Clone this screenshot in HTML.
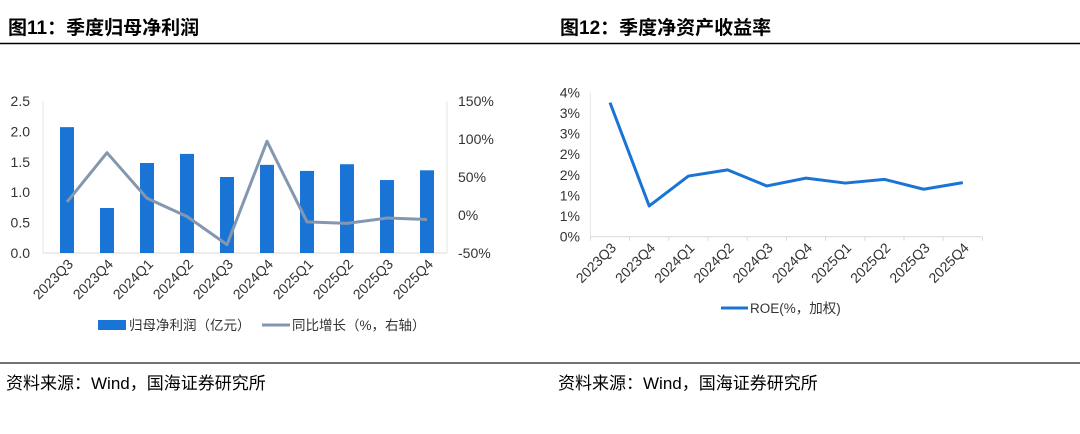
<!DOCTYPE html>
<html><head><meta charset="utf-8"><style>
body{margin:0;background:#fff;width:1080px;height:429px;overflow:hidden}
svg text{font-family:"Liberation Sans","Noto Sans CJK SC",sans-serif}
</style></head><body>
<svg id="s" width="1080" height="429" xmlns="http://www.w3.org/2000/svg">
<text x="8" y="34" font-size="19" font-weight="bold" fill="#000" font-family="'Liberation Sans','Noto Serif CJK SC',serif">图11：季度归母净利润</text>
<text x="560" y="34" font-size="19" font-weight="bold" fill="#000" font-family="'Liberation Sans','Noto Serif CJK SC',serif">图12：季度净资产收益率</text>
<line x1="0" y1="43.5" x2="1080" y2="43.5" stroke="#000" stroke-width="1.5"/>
<line x1="0" y1="363" x2="1080" y2="363" stroke="#444" stroke-width="1.5"/>
<text x="6" y="389" font-size="17" fill="#000" font-family="'Liberation Sans','Noto Serif CJK SC',serif">资料来源：Wind，国海证券研究所</text>
<text x="558" y="389" font-size="17" fill="#000" font-family="'Liberation Sans','Noto Serif CJK SC',serif">资料来源：Wind，国海证券研究所</text>
<g id="c1"></g><g id="c2"></g>
</svg>
<script>
const cats=["2023Q3","2023Q4","2024Q1","2024Q2","2024Q3","2024Q4","2025Q1","2025Q2","2025Q3","2025Q4"];
const profit=[2.07,0.74,1.48,1.63,1.25,1.45,1.35,1.46,1.20,1.36];
const yoy=[17,82,22,-2,-39,97,-9,-11,-4,-6];
const leftTicks=["0.0","0.5","1.0","1.5","2.0","2.5"];
const rightTicks=["-50%","0%","50%","100%","150%"];
const roe=[3.25,0.745,1.47,1.62,1.23,1.42,1.30,1.39,1.15,1.31];
const roeTicks=["0%","1%","1%","2%","2%","3%","3%","4%"];
const NS="http://www.w3.org/2000/svg";
function mk(p,tag,at,txt){const e=document.createElementNS(NS,tag);for(const k in at)e.setAttribute(k,at[k]);if(txt!=null)e.textContent=txt;p.appendChild(e);return e;}
// chart 1
const g1=document.getElementById('c1');
const x0=47,x1=447,yT=101,yB=253,cw=(x1-x0)/cats.length;
const yL=v=>yB-(v/2.5)*(yB-yT);
const yR=v=>yB-((v+50)/200)*(yB-yT);
const cx=i=>x0+cw*(i+0.5);
leftTicks.forEach((t,i)=>{const e=mk(g1,'text',{x:30,y:yL(i*0.5)+5,'font-size':14,fill:'#333','text-anchor':'end'},t);

});
rightTicks.forEach((t,i)=>{const e=mk(g1,'text',{x:458,y:yR(-50+i*50)+5,'font-size':14,fill:'#333'},t);

});
mk(g1,'line',{x1:43,y1:yB,x2:x1,y2:yB,stroke:'#d9d9d9'});
mk(g1,'line',{x1:43,y1:yT,x2:43,y2:yB,stroke:'#e6e6e6'});
mk(g1,'line',{x1:x1,y1:yT,x2:x1,y2:yB,stroke:'#e6e6e6'});
profit.forEach((v,i)=>{const e=mk(g1,'rect',{x:cx(i)-7,y:yL(v),width:14,height:yB-yL(v),fill:'#1a74d6'});

});
const l1=mk(g1,'polyline',{points:yoy.map((v,i)=>cx(i)+','+yR(v)).join(' '),fill:'none',stroke:'#8497b0','stroke-width':3,'stroke-linejoin':'round'});


cats.forEach((c,i)=>{const x=cx(i)+7,y=yB+12;const e=mk(g1,'text',{x:x,y:y,'font-size':14,fill:'#333','text-anchor':'end',transform:`rotate(-45 ${x} ${y})`},c);

});
const lg1=mk(g1,'g',{});


mk(lg1,'rect',{x:98,y:320,width:28,height:10,fill:'#1a74d6'});
mk(lg1,'text',{x:129,y:330,'font-size':13.5,fill:'#333'},'归母净利润（亿元）');
mk(lg1,'line',{x1:262,y1:325,x2:290,y2:325,stroke:'#8497b0','stroke-width':3});
mk(lg1,'text',{x:292,y:330,'font-size':13.5,fill:'#333'},'同比增长（%，右轴）');
// chart 2
const g2=document.getElementById('c2');
const a0=590.4,a1=982.4,bT=92.3,bB=236.7,cw2=(a1-a0)/cats.length;
const y2=v=>bB-(v/3.5)*(bB-bT);
const cx2=i=>a0+cw2*(i+0.5);
roeTicks.forEach((t,i)=>{const e=mk(g2,'text',{x:580,y:y2(i*0.5)+5,'font-size':14,fill:'#333','text-anchor':'end'},t);

});
mk(g2,'line',{x1:a0,y1:bB,x2:a1,y2:bB,stroke:'#d9d9d9'});
mk(g2,'line',{x1:a0,y1:bT,x2:a0,y2:bB,stroke:'#e6e6e6'});
for(let i=0;i<=cats.length;i++)mk(g2,'line',{x1:a0+cw2*i,y1:bB,x2:a0+cw2*i,y2:bB+4,stroke:'#d9d9d9'});
const l2=mk(g2,'polyline',{points:roe.map((v,i)=>cx2(i)+','+y2(v)).join(' '),fill:'none',stroke:'#1a74d6','stroke-width':3,'stroke-linejoin':'round'});


cats.forEach((c,i)=>{const x=cx2(i)+7,y=bB+12;const e=mk(g2,'text',{x:x,y:y,'font-size':14,fill:'#333','text-anchor':'end',transform:`rotate(-45 ${x} ${y})`},c);

});
const lg2=mk(g2,'g',{});


mk(lg2,'line',{x1:721,y1:308,x2:748,y2:308,stroke:'#1a74d6','stroke-width':3});
mk(lg2,'text',{x:750,y:313,'font-size':13.5,fill:'#333'},'ROE(%，加权)');
</script>
</body></html>
